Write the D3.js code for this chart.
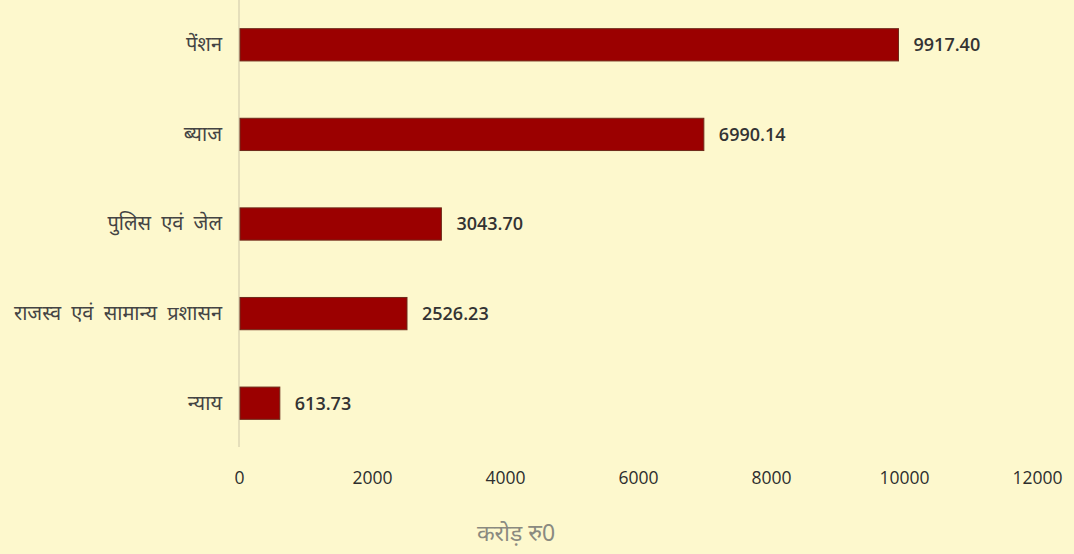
<!DOCTYPE html>
<html>
<head>
<meta charset="utf-8">
<script src="https://cdn.jsdelivr.net/npm/d3@7"></script>
<style>
  html, body { margin: 0; padding: 0; background: #fdf8cd; }
  svg { display: block; }
</style>
</head>
<body>
<svg id="chart" width="1074" height="554"></svg>
<script>
const categories = ["पेंशन", "ब्याज", "पुलिस एवं जेल", "राजस्व एवं सामान्य प्रशासन", "न्याय"];
const values = [9917.40, 6990.14, 3043.70, 2526.23, 613.73];
const valueLabels = ["9917.40", "6990.14", "3043.70", "2526.23", "613.73"];
const xTicks = [0, 2000, 4000, 6000, 8000, 10000, 12000];
const axisTitle = "करोड़ रु0";

(function () {
const svg = d3.select("#chart");
const W = 1074, H = 554;
svg.append("rect").attr("width", W).attr("height", H).attr("fill", "#fdf8cd");

const plotLeft = 239, plotRight = 1037, plotTop = 0, plotBottom = 448;
const x = d3.scaleLinear().domain([0, 12000]).range([plotLeft, plotRight]);
const y = d3.scaleBand().domain(categories).range([plotTop, plotBottom]).paddingInner(0.64).paddingOuter(0.32);

const devFont = "'Noto Sans', 'Noto Sans Devanagari', 'Lohit Devanagari', sans-serif";
const numFont = "'Open Sans', 'Liberation Sans', sans-serif";

// vertical axis line
svg.append("line")
  .attr("x1", x(0)).attr("x2", x(0))
  .attr("y1", 0).attr("y2", 447)
  .attr("stroke", "#dcd7b4").attr("stroke-width", 1.5);

// bars
svg.selectAll("rect.bar").data(categories).enter().append("rect")
  .attr("class", "bar")
  .attr("x", x(0) + 1)
  .attr("y", d => y(d))
  .attr("width", (d, i) => x(values[i]) - x(0) - 1)
  .attr("height", y.bandwidth())
  .attr("fill", "#9b0000")
  .attr("stroke", "#6e2a1a").attr("stroke-width", 1);

// value labels
svg.selectAll("text.val").data(categories).enter().append("text")
  .attr("class", "val")
  .attr("x", (d, i) => x(values[i]) + 15)
  .attr("y", d => y(d) + y.bandwidth() / 2)
  .attr("dy", "0.36em")
  .attr("font-family", numFont)
  .attr("font-size", 18)
  .attr("font-weight", 600)
  .attr("fill", "#333")
  .text((d, i) => valueLabels[i]);

// category labels
const yAxis = d3.axisLeft(y).tickSize(0).tickPadding(17);
const gy = svg.append("g").attr("transform", `translate(${x(0)},0)`).call(yAxis);
gy.select(".domain").remove();
gy.selectAll("text")
  .attr("font-family", devFont)
  .attr("font-size", 20)
  .attr("word-spacing", 5)
  .attr("fill", "#444");

// x tick labels
const xAxis = d3.axisBottom(x).tickValues(xTicks).tickSize(0).tickPadding(0).tickFormat(d3.format("d"));
const gx = svg.append("g").attr("transform", `translate(0,472)`).call(xAxis);
gx.select(".domain").remove();
gx.selectAll("text")
  .attr("font-family", numFont)
  .attr("font-size", 17.5)
  .attr("fill", "#2e2e2e");

// axis title
svg.append("text")
  .attr("x", 516).attr("y", 541)
  .attr("text-anchor", "middle")
  .attr("font-family", devFont)
  .attr("font-size", 23)
  .attr("fill", "#8a8a80")
  .text(axisTitle);
})();
</script>
</body>
</html>
